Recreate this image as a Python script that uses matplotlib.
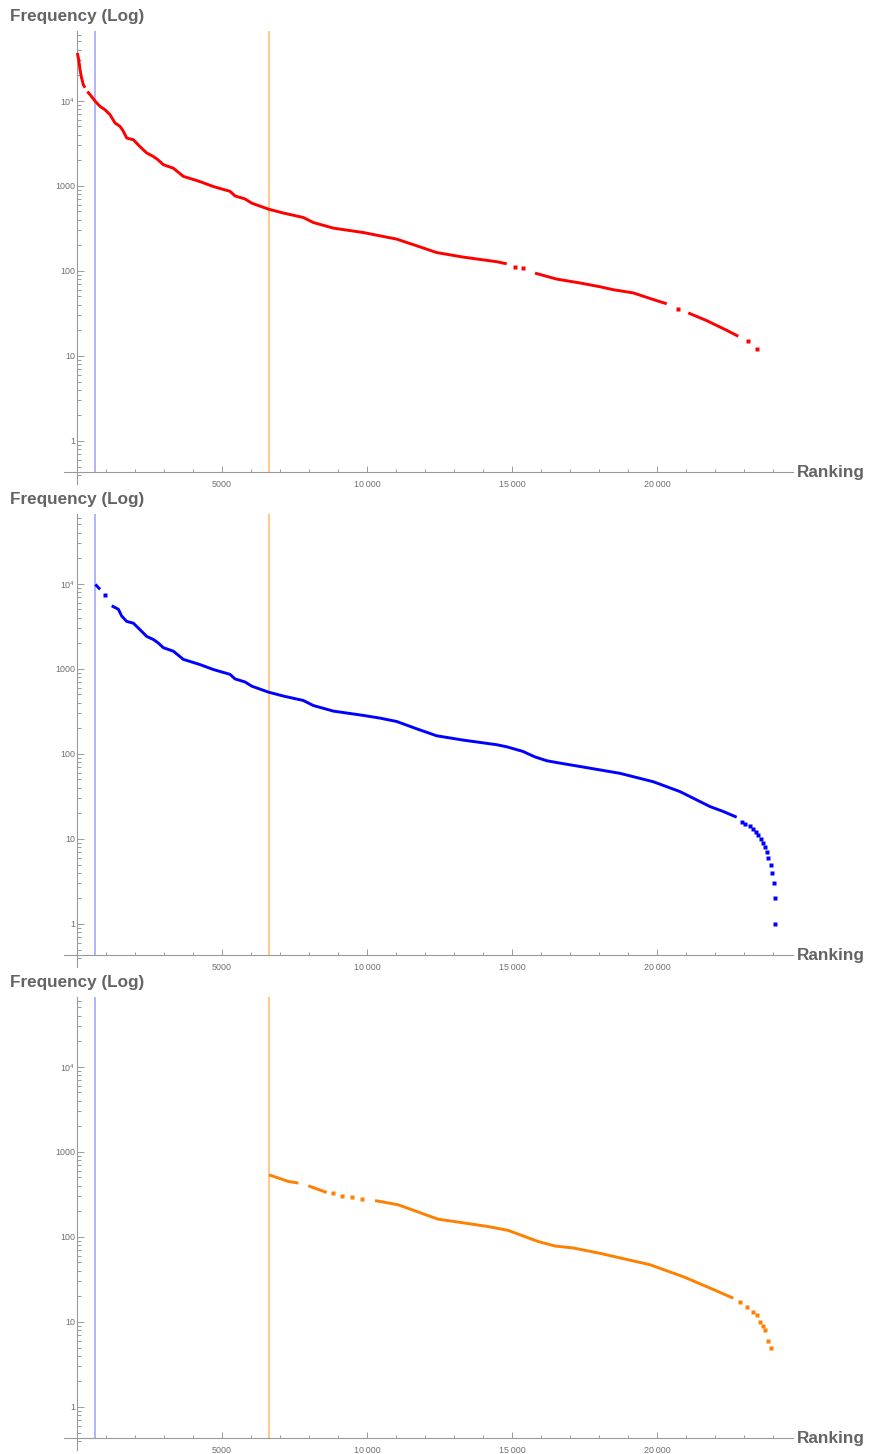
import numpy as np
import matplotlib
matplotlib.use("Agg")
import matplotlib.pyplot as plt
from matplotlib.ticker import FixedLocator, FixedFormatter, NullFormatter

plt.rcParams['font.family'] = ['Liberation Sans', 'DejaVu Sans']
plt.rcParams['mathtext.fontset'] = 'custom'
plt.rcParams['mathtext.rm'] = 'Liberation Sans'
plt.rcParams['mathtext.it'] = 'Liberation Sans:italic'

N = np.nan

# ---------------- data (rank, frequency) ----------------
red_line = [(10, 36400), (59, 30300), (103, 23200), (148, 19100), (217, 15400), (276, 14200), (N, N),
            (355, 12800), (448, 11800), (631, 9820), (793, 8570), (966, 7830), (1138, 6840), (1310, 5470),
            (1483, 4990), (1586, 4440), (1714, 3640), (1941, 3480), (2172, 2880), (2403, 2430), (2631, 2210),
            (2793, 2020), (2976, 1770), (3321, 1610), (3666, 1290), (4241, 1120), (4700, 980), (5276, 860),
            (5448, 760), (5793, 700), (6024, 625), (6597, 532), (7114, 478), (7803, 424), (8148, 370),
            (8838, 318), (9872, 282), (11024, 236), (11714, 197), (12403, 164), (13321, 145), (14472, 128),
            (14817, 121), (N, N),
            (15793, 94), (16541, 80), (17345, 72), (18034, 65), (18493, 60), (19183, 55), (19872, 46),
            (20334, 41), (N, N),
            (21079, 32), (21714, 26), (22403, 20), (22803, 17)]
red_dots = [(15103, 112), (15369, 107), (20734, 36), (23148, 15), (23438, 12)]

blue_line = [(633, 9820), (793, 8570), (N, N),
             (1195, 5500), (1425, 5010), (1540, 4170), (1714, 3600), (1941, 3440), (2172, 2880), (2403, 2400),
             (2631, 2210), (2793, 2020), (2976, 1770), (3321, 1610), (3666, 1290), (4241, 1120), (4700, 980),
             (5276, 860), (5448, 760), (5793, 700), (6024, 625), (6597, 532), (7114, 478), (7803, 424),
             (8148, 370), (8838, 318), (9872, 283), (10448, 263), (11024, 240), (11714, 197), (12403, 163),
             (13321, 145), (14472, 128), (14817, 121), (15369, 107), (15793, 92), (16197, 83), (16541, 79),
             (17345, 71), (18724, 59), (19872, 47), (20793, 36), (21828, 24), (22286, 21), (22748, 18)]
blue_dots = [(966, 7410), (22930, 16), (23034, 15), (23207, 14), (23321, 13), (23414, 12), (23493, 11),
             (23586, 10), (23666, 9), (23724, 8), (23783, 7), (23838, 6), (23921, 5), (23976, 4),
             (24034, 3), (24059, 2), (24069, 1)]

orange_line = [(6620, 536), (7286, 448), (7631, 429), (N, N),
               (7976, 398), (8610, 332), (N, N),
               (10276, 267), (11079, 238), (11655, 202), (12459, 161), (13266, 147), (14183, 132),
               (14872, 119), (15907, 88), (16483, 78), (17114, 74), (18034, 64), (19759, 47),
               (20907, 34), (21828, 25), (22631, 19)]
orange_dots = [(8838, 327), (9128, 303), (9472, 293), (9817, 280), (22862, 17), (23093, 15),
               (23321, 13), (23438, 12), (23552, 10), (23666, 9), (23734, 8), (23838, 6), (23931, 5)]

marker_ranks = [633, 6620]

y_major = [1, 10, 100, 1000, 10000]
y_major_labels = ['1', '10', '100', '1000', '$10^{4}$']
x_major = [5000, 10000, 15000, 20000]
x_major_labels = ['5000', '10\u2009000', '15\u2009000', '20\u2009000']

series = [
    (red_line, red_dots, (1, 0, 0)),
    (blue_line, blue_dots, (0, 0, 1)),
    (orange_line, orange_dots, (1, 0.5, 0)),
]

# ---------------- layout ----------------
W, H = 869, 1454
fig = plt.figure(figsize=(W / 100, H / 100), dpi=100)

X_MIN, X_MAX = -460, 24690
Y_BOT, Y_TOP = 0.312, 66000
Y_AXIS = 0.432
AX_L, AX_R = 63.7, 793
AX_H = 453
tops = [31, 514, 997]

axis_gray = '#9a9a9a'
label_gray = '#6e6e6e'
title_gray = '#646464'

minor_y = [k * 10.0 ** d for d in range(-1, 5) for k in range(2, 10)]
minor_y = [v for v in minor_y if Y_BOT <= v <= Y_TOP]
minor_x = [v for v in range(1000, 25000, 1000) if v not in x_major]

for top, (line, dots, col) in zip(tops, series):
    ax = fig.add_axes([AX_L / W, 1 - (top + AX_H) / H, (AX_R - AX_L) / W, AX_H / H])
    ax.set_yscale('log')
    ax.set_xlim(X_MIN, X_MAX)
    ax.set_ylim(Y_BOT, Y_TOP)
    ax.patch.set_visible(False)
    for s in ('top', 'right'):
        ax.spines[s].set_visible(False)
    ax.spines['left'].set_position(('data', 0))
    ax.spines['bottom'].set_position(('data', Y_AXIS))
    for s in ('left', 'bottom'):
        ax.spines[s].set_color(axis_gray)
        ax.spines[s].set_linewidth(0.8)

    ax.yaxis.set_major_locator(FixedLocator(y_major))
    ax.yaxis.set_major_formatter(FixedFormatter(y_major_labels))
    ax.yaxis.set_minor_locator(FixedLocator(minor_y))
    ax.yaxis.set_minor_formatter(NullFormatter())
    ax.xaxis.set_major_locator(FixedLocator(x_major))
    ax.xaxis.set_major_formatter(FixedFormatter(x_major_labels))
    ax.xaxis.set_minor_locator(FixedLocator(minor_x))
    ax.xaxis.set_minor_formatter(NullFormatter())

    ax.tick_params(which='both', direction='in', color=axis_gray, width=0.7,
                   labelcolor=label_gray, labelsize=6.4)
    ax.tick_params(axis='y', which='major', length=5, pad=1.5)
    ax.tick_params(axis='y', which='minor', length=2.6)
    ax.tick_params(axis='x', which='major', length=4, pad=6)
    ax.tick_params(axis='x', which='minor', length=2.2)

    ax.vlines([marker_ranks[0]], Y_AXIS, Y_TOP, color=(0.62, 0.62, 1.0), lw=1.1, zorder=1)
    ax.vlines([marker_ranks[1]], Y_AXIS, Y_TOP, color=(1.0, 0.72, 0.42), lw=1.1, zorder=1)

    lr, lf = zip(*line)
    ax.plot(lr, lf, color=col, lw=2.1, solid_capstyle='butt', zorder=3)
    dr, df = zip(*dots)
    ax.plot(dr, df, 's', color=col, ms=2.2, mec='none', zorder=3)

    fig.text(10 / W, 1 - (top - 10) / H, 'Frequency (Log)', fontsize=12.3,
             fontweight='bold', color=title_gray, ha='left', va='baseline')
    fig.text(797 / W, 1 - (top + 446) / H, 'Ranking', fontsize=12.3,
             fontweight='bold', color=title_gray, ha='left', va='baseline')

fig.savefig('out.png', dpi=100)
